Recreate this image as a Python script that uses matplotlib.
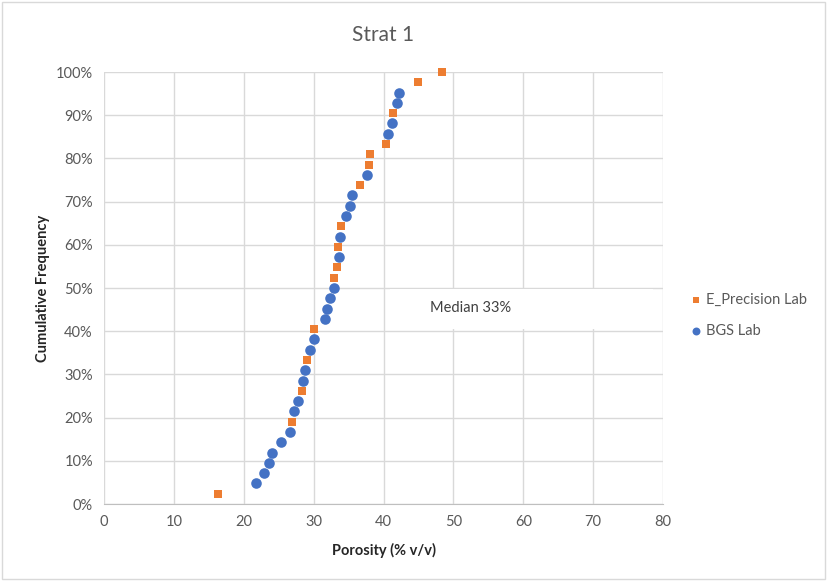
import matplotlib
matplotlib.use("Agg")
import matplotlib.pyplot as plt
from matplotlib.patches import Rectangle
from matplotlib.ticker import MultipleLocator, FuncFormatter

# E_Precision Lab (porosity %, cumulative frequency %)
ep_porosity = [16.3, 26.9, 28.4, 29.0, 30.1, 32.9, 33.4, 33.5, 33.9, 36.6,
               37.9, 38.1, 40.4, 41.4, 44.9, 48.4]
ep_cumfreq = [2.38, 19.05, 26.19, 33.33, 40.48, 52.38, 54.76, 59.52, 64.29,
              73.81, 78.57, 80.95, 83.33, 90.48, 97.62, 100.0]

# BGS Lab
bgs_porosity = [21.7, 22.9, 23.6, 24.0, 25.3, 26.6, 27.2, 27.8, 28.5, 28.75,
                29.5, 30.1, 31.6, 31.9, 32.3, 32.9, 33.7, 33.8, 34.6, 35.2,
                35.5, 37.6, 40.6, 41.2, 41.9, 42.2]
bgs_cumfreq = [4.76, 7.14, 9.52, 11.90, 14.29, 16.67, 21.43, 23.81, 28.57,
               30.95, 35.71, 38.10, 42.86, 45.24, 47.62, 50.00, 57.14, 61.90,
               66.67, 69.05, 71.43, 76.19, 85.71, 88.10, 92.86, 95.24]

plt.rcParams['font.family'] = ['Lato', 'DejaVu Sans']
grey = '#595959'

fig = plt.figure(figsize=(8.27, 5.81), dpi=100)
ax = fig.add_axes([104/827, 77/581, 559/827, 432/581])

ax.scatter(ep_porosity, ep_cumfreq, marker='s', s=36, color='#ED7D31',
           linewidths=0, label='E_Precision Lab', zorder=3, clip_on=False)
ax.scatter(bgs_porosity, bgs_cumfreq, marker='o', s=58, color='#4472C4',
           linewidths=0, label='BGS Lab', zorder=3, clip_on=False)

ax.set_xlim(0, 80)
ax.set_ylim(0, 100)
ax.xaxis.set_major_locator(MultipleLocator(10))
ax.yaxis.set_major_locator(MultipleLocator(10))
ax.yaxis.set_major_formatter(FuncFormatter(lambda v, p: '%d%%' % v))
ax.grid(True, color='#d9d9d9', linewidth=1)
ax.set_axisbelow(True)
for s in ['top', 'right', 'left']:
    ax.spines[s].set_visible(False)
ax.spines['bottom'].set_color('#bfbfbf')
ax.tick_params(length=0, labelsize=10.5, colors=grey, pad=8)

# median note box
ax.add_patch(Rectangle((41, 40.6), 37.6, 9.2, facecolor='white',
                       edgecolor='none', zorder=2))
ax.text(52.5, 45.3, 'Median 33%', fontsize=10.5, color='#404040',
        ha='center', va='center', zorder=4)

ax.set_title('Strat 1', fontsize=15, color=grey, pad=22)
ax.set_xlabel('Porosity (% v/v)', fontsize=10.5, fontweight='bold',
              color='#262626', labelpad=10)
ax.set_ylabel('Cumulative Frequency', fontsize=10.5, fontweight='bold',
              color='#262626', labelpad=4)

ax.legend(loc='center left', bbox_to_anchor=(1.02, 0.437), frameon=False,
          fontsize=10.5, labelcolor=grey, handletextpad=0.1, handlelength=1.2,
          labelspacing=1.15, markerscale=0.75)

fig.add_artist(Rectangle((0.003, 0.004), 0.994, 0.992, transform=fig.transFigure,
                         fill=False, edgecolor='#d9d9d9', linewidth=1))

fig.savefig('out.png', dpi=100)
